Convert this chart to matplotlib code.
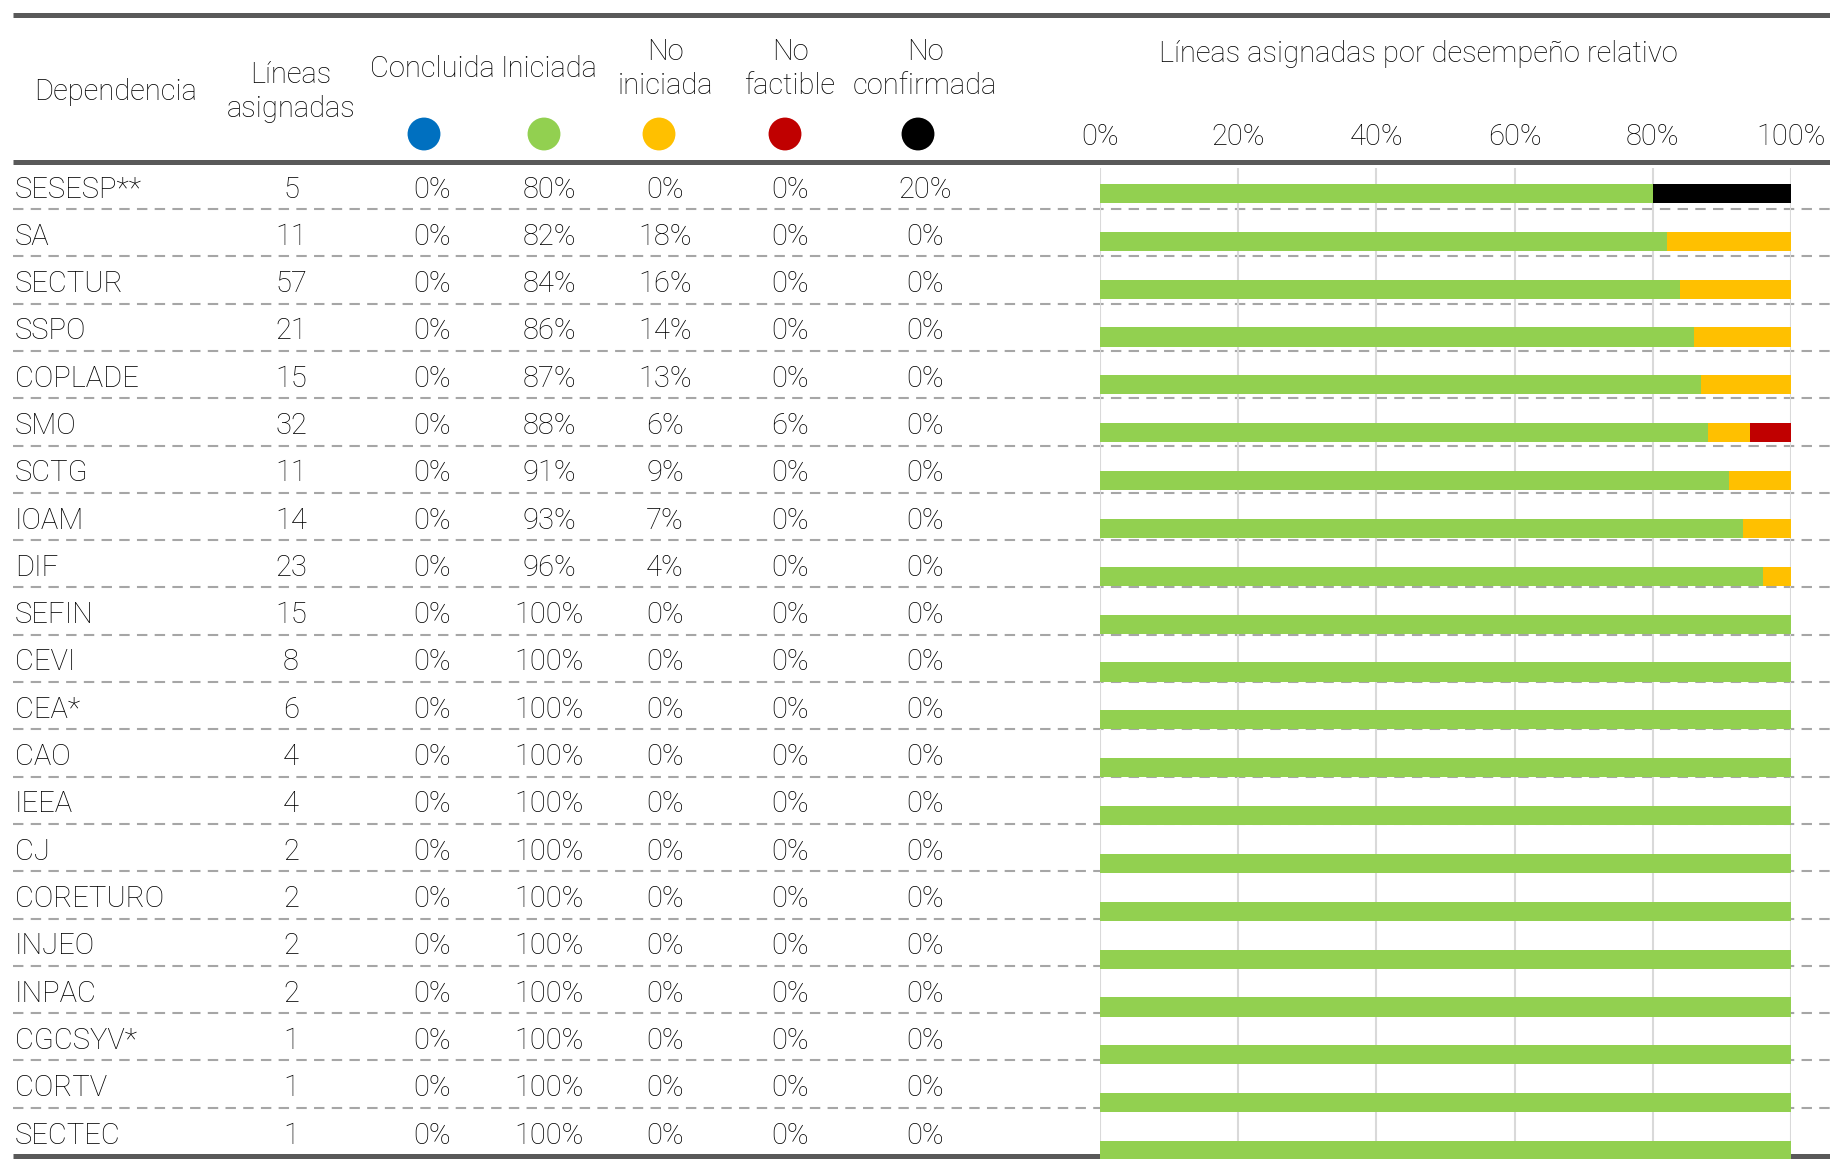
import matplotlib.pyplot as plt

dependencias = ["SESESP**", "SA", "SECTUR", "SSPO", "COPLADE", "SMO", "SCTG", "IOAM",
                "DIF", "SEFIN", "CEVI", "CEA*", "CAO", "IEEA", "CJ", "CORETURO",
                "INJEO", "INPAC", "CGCSYV*", "CORTV", "SECTEC"]
lineas = [5, 11, 57, 21, 15, 32, 11, 14, 23, 15, 8, 6, 4, 4, 2, 2, 2, 2, 1, 1, 1]
concluida = [0] * 21
iniciada = [80, 82, 84, 86, 87, 88, 91, 93, 96, 100, 100, 100, 100, 100, 100, 100, 100, 100, 100, 100, 100]
no_iniciada = [0, 18, 16, 14, 13, 6, 9, 7, 4, 0, 0, 0, 0, 0, 0, 0, 0, 0, 0, 0, 0]
no_factible = [0, 0, 0, 0, 0, 6, 0, 0, 0, 0, 0, 0, 0, 0, 0, 0, 0, 0, 0, 0, 0]
no_confirmada = [20, 0, 0, 0, 0, 0, 0, 0, 0, 0, 0, 0, 0, 0, 0, 0, 0, 0, 0, 0, 0]

headers = ["Concluida", "Iniciada", "No\niniciada", "No\nfactible", "No\nconfirmada"]
colores = ["#0070C0", "#92D050", "#FFC000", "#C00000", "#000000"]
ticks = [0, 20, 40, 60, 80, 100]

FONT = "Roboto"
FS = 21
TXT = "#000000"
W, H = 1830, 1159

fig = plt.figure(figsize=(W / 100, H / 100), dpi=100)

# table layer, in pixel units
ax = fig.add_axes([0, 0, 1, 1])
ax.set_xlim(0, W)
ax.set_ylim(H, 0)
ax.axis("off")

col_x = [432, 549, 665, 790, 925]
circ_x = [424, 544, 659, 785, 918]
row0, dy = 189.5, 47.3

# thick rules
for y in [14.5, 161.5, 1156]:
    ax.plot([13, W], [y, y], color="#595959", lw=3.6, solid_capstyle="butt", zorder=1)

# header
ax.text(34, 92, "Dependencia", ha="left", va="center", fontsize=FS, family=FONT, weight="light", color=TXT)
ax.text(291, 92, "Líneas\nasignadas", ha="center", va="center", fontsize=FS, family=FONT,
        weight="light", color=TXT, linespacing=1.25)
for x, h in zip(col_x, headers):
    ax.text(x, 69, h, ha="center", va="center", fontsize=FS, family=FONT, weight="light",
            color=TXT, linespacing=1.25)
ax.scatter(circ_x, [134] * 5, s=560, c=colores, edgecolors="none", zorder=3)
ax.text(1418, 54, "Líneas asignadas por desempeño relativo", ha="center", va="center",
        fontsize=FS, family=FONT, weight="light", color=TXT)

# rows
cols = [concluida, iniciada, no_iniciada, no_factible, no_confirmada]
for i, name in enumerate(dependencias):
    y = row0 + i * dy
    ax.text(15, y, name, ha="left", va="center", fontsize=FS, family=FONT, weight="light", color=TXT)
    ax.text(291, y, str(lineas[i]), ha="center", va="center", fontsize=FS, family=FONT,
            weight="light", color=TXT)
    for x, c in zip(col_x, cols):
        ax.text(x, y, f"{c[i]}%", ha="center", va="center", fontsize=FS, family=FONT,
                weight="light", color=TXT)
    if i < len(dependencias) - 1:
        yl = row0 - 2.5 + i * dy + 22
        ax.plot([13, W], [yl, yl], color="#A6A6A6", lw=1.5, ls=(0, (5, 3.5)), zorder=1)

# bar chart layer
bx = fig.add_axes([1100 / W, 0, 691 / W, (H - 168) / H])
bx.patch.set_alpha(0)
bx.set_zorder(2)
pos = list(range(len(dependencias)))
left = [0] * len(pos)
for c, col in zip(cols, colores):
    bx.barh(pos, c, left=left, height=0.40, color=col, zorder=3)
    left = [a + b for a, b in zip(left, c)]
bx.set_xlim(0, 100)
bx.set_ylim((H - 193.5) / 47.85, (168 - 193.5) / 47.85)
bx.set_xticks(ticks)
bx.set_xticklabels([f"{t}%" for t in ticks], fontsize=FS, family=FONT, weight="light", color=TXT)
bx.xaxis.tick_top()
bx.tick_params(axis="x", length=0, pad=12)
bx.set_yticks([])
for s in bx.spines.values():
    s.set_visible(False)
for t in ticks:
    bx.axvline(t, color="#D9D9D9", lw=1.5, zorder=1)

fig.savefig("out.png", dpi=100)
